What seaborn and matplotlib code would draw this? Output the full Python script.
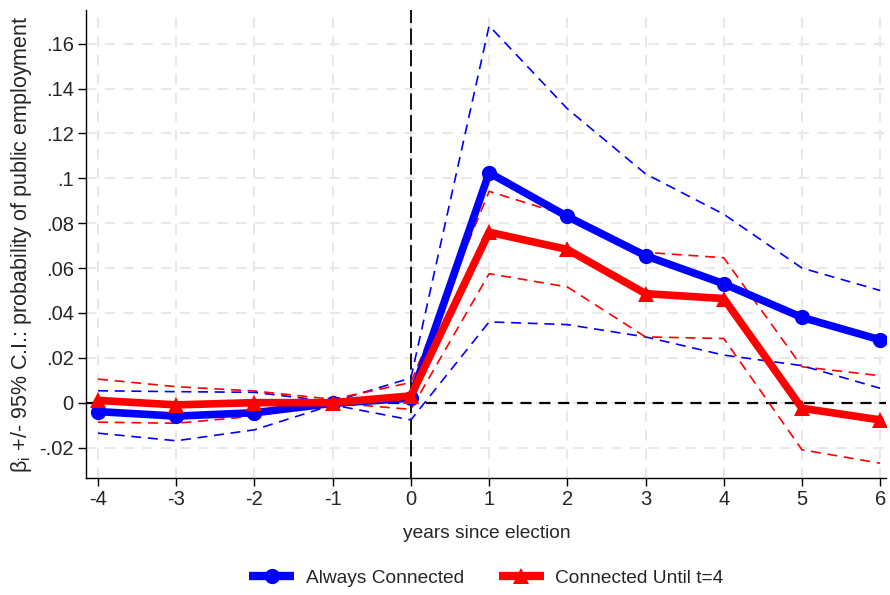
import numpy as np
import pandas as pd
import matplotlib
matplotlib.use("Agg")
import matplotlib.pyplot as plt
import seaborn as sns

years = [-4, -3, -2, -1, 0, 1, 2, 3, 4, 5, 6]
always_est = [-0.004, -0.006, -0.0045, -0.0003, 0.002, 0.1025, 0.083, 0.0655, 0.053, 0.038, 0.028]
always_hi = [0.0053, 0.0049, 0.0046, 0.0004, 0.011, 0.168, 0.131, 0.102, 0.084, 0.060, 0.050]
always_lo = [-0.0136, -0.017, -0.0121, -0.001, -0.0077, 0.036, 0.0348, 0.0293, 0.0212, 0.0165, 0.0064]
until4_est = [0.001, -0.001, 0.000, 0.000, 0.003, 0.076, 0.0683, 0.0486, 0.0464, -0.0025, -0.0077]
until4_hi = [0.0105, 0.0071, 0.0052, 0.0015, 0.009, 0.0942, 0.0834, 0.067, 0.0646, 0.016, 0.012]
until4_lo = [-0.0087, -0.0092, -0.006, -0.0001, -0.003, 0.0575, 0.0516, 0.0293, 0.0286, -0.021, -0.027]
series = ["Always Connected", "Connected Until t=4"]
ytick_vals = [-0.02, 0, 0.02, 0.04, 0.06, 0.08, 0.1, 0.12, 0.14, 0.16]
ytick_labels = ["-.02", "0", ".02", ".04", ".06", ".08", ".1", ".12", ".14", ".16"]

sns.set_style("white")
plt.rcParams["font.family"] = ["Liberation Sans", "DejaVu Sans"]
plt.rcParams["axes.unicode_minus"] = False
plt.rcParams["mathtext.fontset"] = "custom"
plt.rcParams["mathtext.rm"] = "Liberation Sans"
plt.rcParams["mathtext.it"] = "Liberation Sans"

df = pd.DataFrame({
    "year": years * 2,
    "est": always_est + until4_est,
    "hi": always_hi + until4_hi,
    "lo": always_lo + until4_lo,
    "series": [series[0]] * len(years) + [series[1]] * len(years),
})
colors = {series[0]: "#0000ff", series[1]: "#ff0000"}

fig = plt.figure(figsize=(8.9, 5.95), dpi=100)
ax = fig.add_axes([0.097, 0.197, 0.899, 0.786])

# grid
for yv in ytick_vals:
    ax.axhline(yv, color="#e8e8e8", lw=1.5, ls=(0, (5, 4)), zorder=0)
for xv in years:
    ax.axvline(xv, color="#e8e8e8", lw=1.5, ls=(0, (5, 4)), zorder=0)

ax.axhline(0, color="black", lw=1.6, ls=(0, (5, 3.5)), zorder=1)
ax.axvline(0, color="black", lw=1.3, ls=(0, (9, 3)), zorder=1)

for col in ["hi", "lo"]:
    sns.lineplot(data=df, x="year", y=col, hue="series", palette=colors,
                 ax=ax, legend=False, lw=1.2, linestyle=(0, (6, 4)), zorder=2,
                 estimator=None, sort=False)

sns.lineplot(data=df, x="year", y="est", hue="series", style="series",
             palette=colors, markers={series[0]: "o", series[1]: "^"},
             dashes=False, lw=5.5, markersize=11, markeredgewidth=0,
             ax=ax, zorder=3, estimator=None, sort=False)

ax.set_xlim(-4.15, 6.08)
ax.set_ylim(-0.0335, 0.175)
ax.set_xticks(years)
ax.set_xticklabels([str(y) for y in years])
ax.set_yticks(ytick_vals)
ax.set_yticklabels(ytick_labels)
ax.tick_params(axis="both", direction="out", length=6, width=1, color="black",
               labelsize=14.5, left=True, bottom=True, pad=3)
for s in ["top", "right"]:
    ax.spines[s].set_visible(False)
for s in ["left", "bottom"]:
    ax.spines[s].set_color("black")
    ax.spines[s].set_linewidth(1)

ax.set_xlabel("years since election", fontsize=13.8, labelpad=11)
ax.set_ylabel(r"$\mathregular{\beta_i}$ +/- 95% C.I.: probability of public employment",
              fontsize=15.5, labelpad=4)

handles, labels = ax.get_legend_handles_labels()
for h in handles:
    h.set_linewidth(6)
    h.set_solid_capstyle("butt")
ax.legend(handles, labels, loc="center", bbox_to_anchor=(0.5, -0.214),
          ncol=2, frameon=False, fontsize=13.8, handlelength=2.35,
          columnspacing=1.8, handletextpad=0.62)

fig.savefig("out.png", dpi=100)
